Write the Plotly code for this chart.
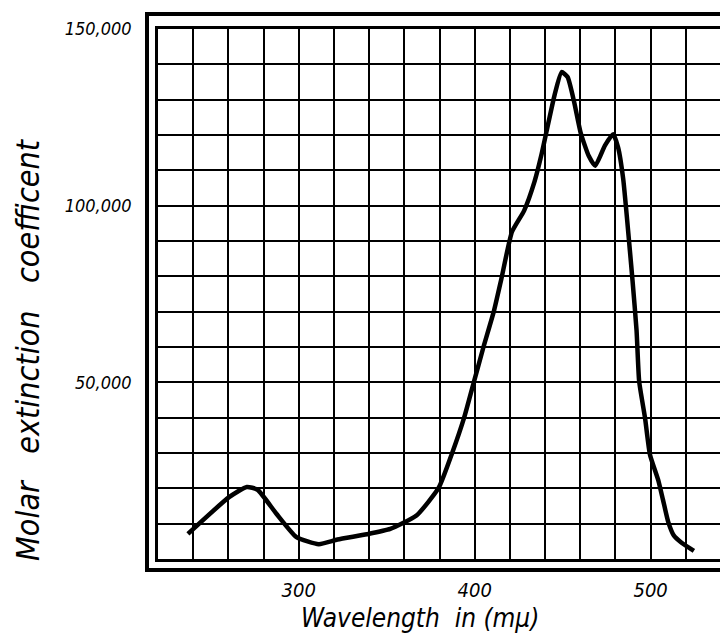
import plotly.graph_objects as go

# Data (wavelength in m\u03bc, molar extinction coefficient)
wavelength = [237, 260.4, 270.5, 276.6, 287.3, 298.7, 311.4, 322, 338.7, 352, 366.9,
              379.5, 387.2, 394, 399.6, 405, 411, 415, 421.2, 428.1, 434, 437.8,
              440.7, 445.4, 449.4, 452.8, 456.5, 460.2, 464.8, 468.5, 474, 478.7,
              481.5, 484.4, 488.2, 489.7, 492, 493.5, 496.8, 499.6, 504.4, 507,
              510, 513, 517.6, 524.6]
extinction = [7100, 17500, 20400, 19600, 12800, 6200, 4200, 5500, 7000, 8500, 12300,
              20100, 30000, 40000, 50200, 60000, 70300, 78900, 92600, 98600, 106800, 114100,
              120700, 131300, 137800, 136400, 129400, 120700, 114100, 111300, 117000, 120200,
              116500, 107600, 87400, 78900, 64700, 50200, 40000, 29600, 22200, 16800,
              10500, 6800, 4600, 2300]

x_tickvals = [300, 400, 500]
x_ticktext = ["300", "400", "500"]
y_tickvals = [50000, 100000, 150000]
y_ticktext = ["50,000", "100,000", "150,000"]

hand = "Liberation Sans Narrow, DejaVu Sans Condensed, Roboto, Liberation Sans"

fig = go.Figure()
fig.add_trace(go.Scatter(
    x=wavelength, y=extinction, mode="lines",
    line=dict(color="black", width=4.5, shape="spline", smoothing=0.5),
    showlegend=False, hoverinfo="skip"))

OFF = 8  # page body margin
W, H = 720, 626
L, R, T, B = 150, 7, 21, 75
pw, ph = W - L - R, H - T - B

def px_x(p):
    return (p - OFF - L) / pw

def px_y(p):
    return (H - B - (p - OFF)) / ph

fig.update_layout(
    width=W, height=H,
    margin=dict(l=L, r=R, t=T, b=B),
    paper_bgcolor="white", plot_bgcolor="white",
    xaxis=dict(range=[220, 540], tickvals=x_tickvals, ticktext=x_ticktext,
               showgrid=True, gridcolor="black", gridwidth=2,
               minor=dict(dtick=20, tick0=220, showgrid=True, gridcolor="black", gridwidth=2),
               showline=True, linecolor="black", linewidth=2.5, mirror=True,
               ticks="", zeroline=False, ticklabelstandoff=11, automargin=False,
               tickfont=dict(family=hand, size=20, color="black", style="italic")),
    yaxis=dict(range=[0, 150000], tickvals=y_tickvals, ticktext=y_ticktext,
               showgrid=True, gridcolor="black", gridwidth=2,
               minor=dict(dtick=10000, tick0=0, showgrid=True, gridcolor="black", gridwidth=2),
               showline=True, linecolor="black", linewidth=2.5, mirror=True,
               ticks="", zeroline=False, ticklabelstandoff=20, automargin=False,
               tickfont=dict(family=hand, size=18, color="black", style="italic")),
    shapes=[dict(type="rect", xref="paper", yref="paper",
                 x0=px_x(147), x1=1.06, y0=px_y(570), y1=px_y(14),
                 line=dict(color="black", width=4), fillcolor="rgba(0,0,0,0)", layer="above")],
    annotations=[
        dict(text="Wavelength\u00a0\u00a0in\u00a0(m\u03bc)", xref="paper", yref="paper",
             x=px_x(420), y=px_y(618), xanchor="center", yanchor="middle",
             showarrow=False, font=dict(family=hand, size=26, color="black", style="italic")),
        dict(text="Molar\u00a0\u00a0\u00a0extinction\u00a0\u00a0\u00a0coefficent", xref="paper", yref="paper",
             x=px_x(28), y=px_y(350), xanchor="center", yanchor="middle", textangle=-90,
             showarrow=False, font=dict(family=hand, size=32, color="black", style="italic")),
    ],
)

fig.write_html("out.html")
